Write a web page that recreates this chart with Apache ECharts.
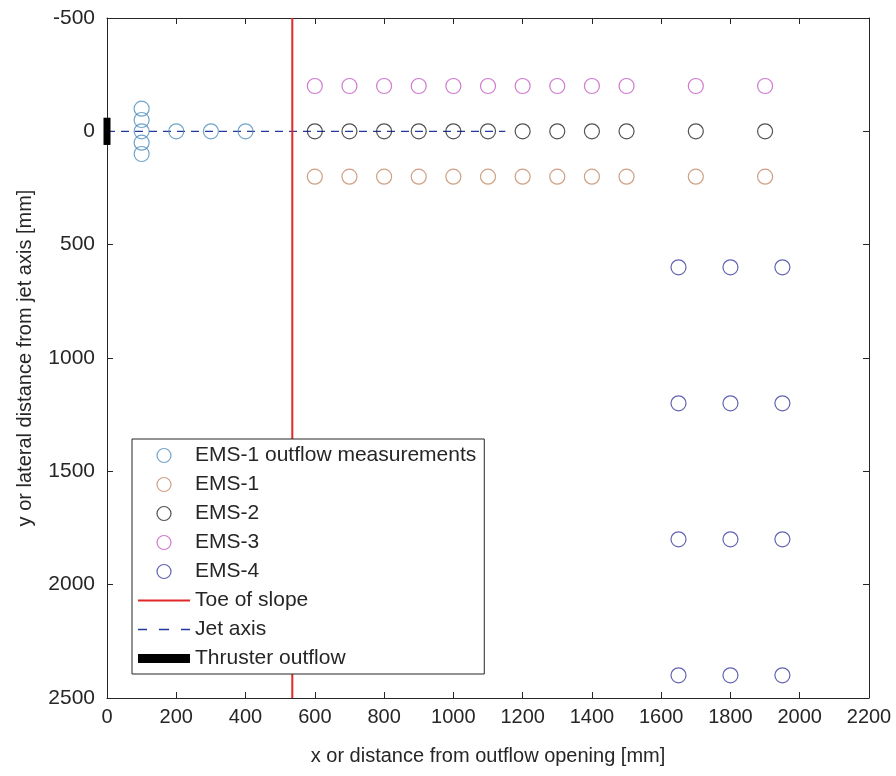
<!DOCTYPE html>
<html>
<head>
<meta charset="utf-8">
<script src="https://cdn.jsdelivr.net/npm/echarts@6/dist/echarts.min.js"></script>
<style>
  html, body { margin: 0; padding: 0; background: #fff; }
  #chart { width: 896px; height: 776px; }
</style>
</head>
<body>
<div id="chart"></div>
<script>
// Measurement stations near the outflow (EMS-1 outflow measurements)
const outflowX = [100, 100, 100, 100, 100, 200, 300, 400];
const outflowY = [-100, -50, 0, 50, 100, 0, 0, 0];

// Longitudinal rows of EMS-1 / EMS-2 / EMS-3
const rowX = [600, 700, 800, 900, 1000, 1100, 1200, 1300, 1400, 1500, 1700, 1900];
const ems1Y = 200;
const ems2Y = 0;
const ems3Y = -200;

// EMS-4 grid further downstream
const ems4X = [1650, 1800, 1950];
const ems4Y = [600, 1200, 1800, 2400];

// Toe of slope, jet axis and thruster outflow
const toeX = 535;
const toeY = [-500, 2500];
const jetX = [0, 1150];
const jetY = 0;
const thrusterX = 0;
const thrusterY = [-60, 60];

// Axis ranges and ticks
const xRange = [0, 2200], xStep = 200;
const yRange = [-500, 2500], yStep = 500;

const FONT = '"Liberation Sans", Arial, Helvetica, sans-serif';
const AX = '#262626';
const TOE_COLOR = '#e02828';
const JET_COLOR = '#2438a0';

// Legend glyphs for the line-type entries
const ICON_SOLID = 'path://M0,0h52v2h-52z';
const ICON_DASHED = 'path://M0,0h9v1.3h-9zM21,0h10v1.3h-10zM43,0h9v1.3h-9z';
const ICON_BAR = 'path://M0,0h52v9h-52z';

const rowPoints = (y) => rowX.map(x => [x, y]);
const ems4Points = [];
ems4Y.forEach(y => ems4X.forEach(x => ems4Points.push([x, y])));

function scatter(name, data, color) {
  return {
    name, type: 'scatter', data,
    symbol: 'circle', symbolSize: 15,
    itemStyle: { color: 'rgba(255,255,255,0)', borderColor: color, borderWidth: 1.2 },
    z: 4
  };
}

const plain = (v) => String(v);

const chart = echarts.init(document.getElementById('chart'), null, { renderer: 'canvas' });

const baseX = {
  type: 'value', min: xRange[0], max: xRange[1], interval: xStep,
  splitLine: { show: false },
  axisLine: { show: true, onZero: false, lineStyle: { color: AX, width: 1 } },
  axisTick: { show: true, inside: true, length: 6, lineStyle: { color: AX } }
};
const baseY = {
  type: 'value', min: yRange[0], max: yRange[1], interval: yStep, inverse: true,
  splitLine: { show: false },
  axisLine: { show: true, onZero: false, lineStyle: { color: AX, width: 1 } },
  axisTick: { show: true, inside: true, length: 6, lineStyle: { color: AX } }
};

chart.setOption({
  animation: false,
  backgroundColor: '#fff',
  textStyle: { fontFamily: FONT },
  grid: { left: 107, right: 27, top: 18, bottom: 78, containLabel: false },
  xAxis: [
    Object.assign({}, baseX, {
      position: 'bottom',
      name: 'x or distance from outflow opening [mm]',
      nameLocation: 'middle', nameGap: 48,
      nameTextStyle: { color: AX, fontSize: 20, fontFamily: FONT },
      axisLabel: { color: AX, fontSize: 20, margin: 9, fontFamily: FONT, formatter: plain }
    }),
    Object.assign({}, baseX, { position: 'top', axisLabel: { show: false } })
  ],
  yAxis: [
    Object.assign({}, baseY, {
      position: 'left',
      name: 'y or lateral distance from jet axis [mm]',
      nameLocation: 'middle', nameGap: 72,
      nameTextStyle: { color: AX, fontSize: 20, fontFamily: FONT },
      axisLabel: { color: AX, fontSize: 21, margin: 12, fontFamily: FONT, formatter: plain }
    }),
    Object.assign({}, baseY, { position: 'right', axisLabel: { show: false } })
  ],
  legend: {
    orient: 'vertical', left: 132, top: 439,
    padding: [6, 8, 5, 6],
    itemWidth: 52, itemHeight: 14, itemGap: 8,
    backgroundColor: '#fff', borderColor: AX, borderWidth: 1,
    textStyle: { color: AX, fontSize: 21, lineHeight: 21, fontFamily: FONT },
    itemStyle: { borderWidth: 1.2 },
    data: [
      'EMS-1 outflow measurements', 'EMS-1', 'EMS-2', 'EMS-3', 'EMS-4',
      { name: 'Toe of slope', icon: ICON_SOLID, itemStyle: { color: TOE_COLOR, borderWidth: 0 } },
      { name: 'Jet axis', icon: ICON_DASHED, itemStyle: { color: JET_COLOR, borderWidth: 0 } },
      { name: 'Thruster outflow', icon: ICON_BAR, itemStyle: { color: '#000', borderWidth: 0 } }
    ],
    z: 10
  },
  series: [
    {
      name: 'Jet axis', type: 'line',
      data: jetX.map(x => [x, jetY]),
      symbol: 'none',
      itemStyle: { color: JET_COLOR },
      lineStyle: { color: JET_COLOR, width: 1.1, type: [8, 6] },
      z: 2
    },
    {
      name: 'Toe of slope', type: 'line',
      data: toeY.map(y => [toeX, y]),
      symbol: 'none',
      itemStyle: { color: TOE_COLOR },
      lineStyle: { color: TOE_COLOR, width: 2 },
      z: 3
    },
    scatter('EMS-1 outflow measurements', outflowX.map((x, i) => [x, outflowY[i]]), '#4f8dbb'),
    scatter('EMS-1', rowPoints(ems1Y), '#c28a66'),
    scatter('EMS-2', rowPoints(ems2Y), '#262626'),
    scatter('EMS-3', rowPoints(ems3Y), '#c457c4'),
    scatter('EMS-4', ems4Points, '#3b3b9e'),
    {
      name: 'Thruster outflow', type: 'line',
      data: thrusterY.map(y => [thrusterX, y]),
      symbol: 'none', clip: false,
      itemStyle: { color: '#000' },
      lineStyle: { color: '#000', width: 7, cap: 'butt' },
      z: 6
    }
  ]
});
</script>
</body>
</html>
